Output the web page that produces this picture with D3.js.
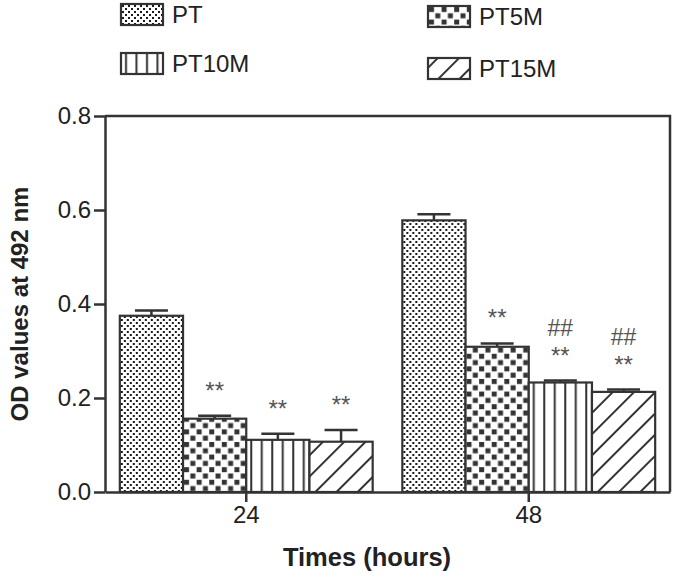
<!DOCTYPE html>
<html>
<head>
<meta charset="utf-8">
<script src="https://cdn.jsdelivr.net/npm/d3@7"></script>
<style>
  body { margin: 0; background: #fff; }
  svg { display: block; font-family: "Liberation Sans", Arial, sans-serif; }
</style>
</head>
<body>
<div id="chart"></div>
<script>
// data
const times = ["24", "48"];
const groups = ["PT", "PT5M", "PT10M", "PT15M"];
const ptMean = [0.375, 0.578];
const pt5mMean = [0.156, 0.309];
const pt10mMean = [0.111, 0.233];
const pt15mMean = [0.107, 0.213];
const ptErr = [0.011, 0.013];
const pt5mErr = [0.006, 0.007];
const pt10mErr = [0.013, 0.004];
const pt15mErr = [0.025, 0.005];
// significance marks (stacked lines, bottom first)
const pt5mSig = [["**"], ["**"]];
const pt10mSig = [["**"], ["**", "##"]];
const pt15mSig = [["**"], ["**", "##"]];
const yTicks = [0, 0.2, 0.4, 0.6, 0.8];

const means = [ptMean, pt5mMean, pt10mMean, pt15mMean];
const errs = [ptErr, pt5mErr, pt10mErr, pt15mErr];
const sigs = [[[], []], pt5mSig, pt10mSig, pt15mSig];

const W = 675, H = 576;
const margin = { top: 116, right: 5, bottom: 84, left: 105 };
const ink = "#333";

const svg = d3.select("#chart").append("svg")
    .attr("width", W)
    .attr("height", H);

// fill patterns
const defs = svg.append("defs");
const pDots = defs.append("pattern").attr("id", "pat-PT")
    .attr("patternUnits", "userSpaceOnUse").attr("width", 6).attr("height", 6);
pDots.append("rect").attr("width", 6).attr("height", 6).attr("fill", "#fff");
pDots.append("rect").attr("x", 1).attr("y", 1).attr("width", 2).attr("height", 2).attr("fill", "#1a1a1a");
pDots.append("rect").attr("x", 4).attr("y", 4).attr("width", 2).attr("height", 2).attr("fill", "#1a1a1a");

const pCheck = defs.append("pattern").attr("id", "pat-PT5M")
    .attr("patternUnits", "userSpaceOnUse").attr("width", 12.6).attr("height", 12.6);
pCheck.append("rect").attr("width", 12.6).attr("height", 12.6).attr("fill", "#fff");
pCheck.append("rect").attr("x", 1).attr("y", 1).attr("width", 5).attr("height", 5).attr("fill", "#333");
pCheck.append("rect").attr("x", 7.3).attr("y", 7.3).attr("width", 5).attr("height", 5).attr("fill", "#333");

const pVert = defs.append("pattern").attr("id", "pat-PT10M")
    .attr("patternUnits", "userSpaceOnUse").attr("width", 10.5).attr("height", 10);
pVert.append("rect").attr("width", 10.5).attr("height", 10).attr("fill", "#fff");
pVert.append("line").attr("x1", 5).attr("x2", 5).attr("y1", 0).attr("y2", 10)
    .attr("stroke", "#333").attr("stroke-width", 2);

const pDiag = defs.append("pattern").attr("id", "pat-PT15M")
    .attr("patternUnits", "userSpaceOnUse").attr("width", 15).attr("height", 15)
    .attr("patternTransform", "rotate(45)");
pDiag.append("rect").attr("width", 15).attr("height", 15).attr("fill", "#fff");
pDiag.append("line").attr("x1", 7).attr("x2", 7).attr("y1", 0).attr("y2", 15)
    .attr("stroke", "#333").attr("stroke-width", 2);

const x0 = d3.scaleBand()
    .domain(times)
    .range([margin.left, W - margin.right])
    .paddingInner(0.105)
    .paddingOuter(0.0525);

const x1 = d3.scaleBand()
    .domain(groups)
    .range([0, x0.bandwidth()]);

const y = d3.scaleLinear()
    .domain([0, 0.8])
    .range([H - margin.bottom, margin.top]);

// bars
const rows = [];
groups.forEach((g, gi) => {
    times.forEach((t, ti) => {
        rows.push({ g, t, v: means[gi][ti], e: errs[gi][ti], sig: sigs[gi][ti] });
    });
});

const barG = svg.append("g");
const bar = barG.selectAll("g.bar")
    .data(rows)
    .enter().append("g")
    .attr("class", "bar")
    .attr("transform", d => `translate(${x0(d.t) + x1(d.g)},0)`);

// error bars (upper only)
const cap = 33;
bar.append("line")
    .attr("x1", x1.bandwidth() / 2).attr("x2", x1.bandwidth() / 2)
    .attr("y1", d => y(d.v)).attr("y2", d => y(d.v + d.e))
    .attr("stroke", ink).attr("stroke-width", 2.5);
bar.append("line")
    .attr("x1", x1.bandwidth() / 2 - cap / 2).attr("x2", x1.bandwidth() / 2 + cap / 2)
    .attr("y1", d => y(d.v + d.e)).attr("y2", d => y(d.v + d.e))
    .attr("stroke", ink).attr("stroke-width", 2.5);

bar.append("rect")
    .attr("x", 0)
    .attr("y", d => y(d.v))
    .attr("width", x1.bandwidth())
    .attr("height", d => y(0) - y(d.v))
    .attr("fill", d => `url(#pat-${d.g})`)
    .attr("stroke", ink)
    .attr("stroke-width", 2.2);

// significance marks
bar.each(function(d) {
    const top = y(d.v + d.e);
    d.sig.forEach(s => {
        d3.select(this).append("text")
            .attr("x", x1.bandwidth() / 2)
            .attr("y", s === "##" ? top - 45 : top - 17)
            .attr("text-anchor", "middle")
            .attr("fill", "#555")
            .style("font-size", s === "##" ? "23px" : "24px")
            .text(s);
    });
});

// axes
const yAxis = svg.append("g")
    .attr("transform", `translate(${margin.left},0)`)
    .call(d3.axisLeft(y).tickValues(yTicks).tickFormat(d3.format(".1f")).tickSize(11).tickSizeOuter(0).tickPadding(3));

const xAxis = svg.append("g")
    .attr("transform", `translate(0,${H - margin.bottom})`)
    .call(d3.axisBottom(x0).tickSize(10).tickSizeOuter(0).tickPadding(4));

[yAxis, xAxis].forEach(a => {
    a.select(".domain").attr("stroke", ink).attr("stroke-width", 2.5);
    a.selectAll(".tick line").attr("stroke", ink).attr("stroke-width", 2.5);
    a.selectAll(".tick text").attr("fill", "#222").style("font-size", "24px")
        .style("font-family", "'Liberation Sans', Arial, sans-serif");
});

// top and right frame
svg.append("path")
    .attr("d", `M${margin.left},${margin.top}H${W - margin.right}V${H - margin.bottom}`)
    .attr("fill", "none").attr("stroke", ink).attr("stroke-width", 2.5);

// titles
svg.append("text")
    .attr("transform", `translate(28,${(margin.top + H - margin.bottom) / 2}) rotate(-90)`)
    .attr("text-anchor", "middle")
    .attr("fill", "#222")
    .style("font-size", "24px")
    .style("font-weight", "bold")
    .text("OD values at 492 nm");

svg.append("text")
    .attr("x", 367)
    .attr("y", 566)
    .attr("text-anchor", "middle")
    .attr("fill", "#222")
    .style("font-size", "25.5px")
    .style("font-weight", "bold")
    .text("Times (hours)");

// legend, two columns
const legendPos = { PT: [121, 4], PT5M: [428, 6], PT10M: [121, 53], PT15M: [428, 58] };
const leg = svg.append("g").selectAll("g")
    .data(groups)
    .enter().append("g")
    .attr("transform", d => `translate(${legendPos[d][0]},${legendPos[d][1]})`);
leg.append("rect")
    .attr("width", 42).attr("height", 21)
    .attr("fill", d => `url(#pat-${d})`)
    .attr("stroke", ink).attr("stroke-width", 2.2);
leg.append("text")
    .attr("x", 51).attr("y", 19)
    .attr("fill", "#222")
    .style("font-size", "24px")
    .text(d => d);
</script>
</body>
</html>
